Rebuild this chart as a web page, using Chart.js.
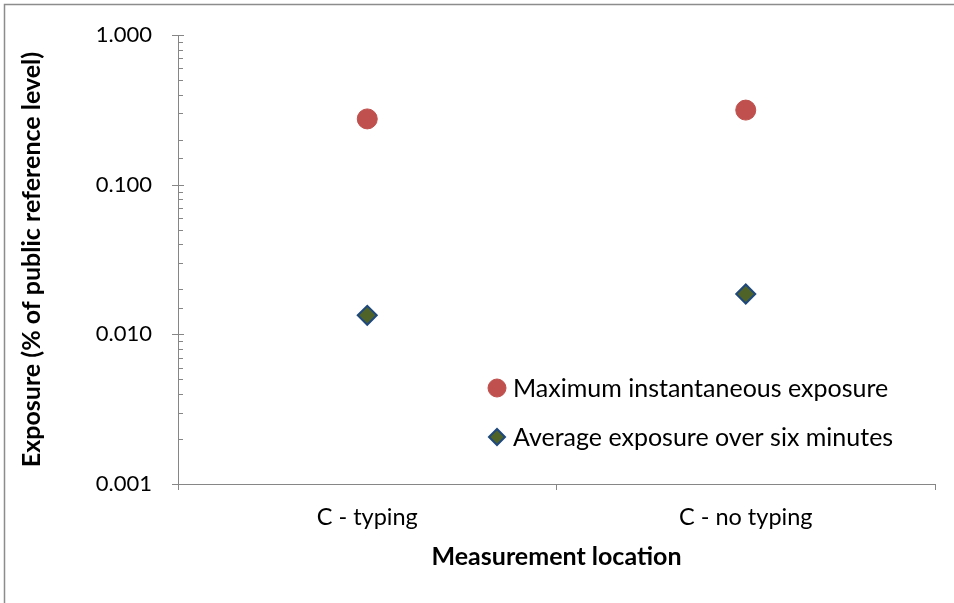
<!DOCTYPE html>
<html><head><meta charset="utf-8">
<script src="https://cdn.jsdelivr.net/npm/chart.js@4"></script>
<style>html,body{margin:0;padding:0;background:#fff}#wrap{width:954px;height:603px;position:relative}</style>
</head><body><div id="wrap"><canvas id="c" width="954" height="603"></canvas></div>
<script>
const categories = ['C - typing', 'C - no typing'];
const seriesNames = ['Maximum instantaneous exposure', 'Average exposure over six minutes'];
const maxExposure = [0.275, 0.315];
const avgExposure = [0.0134, 0.0186];
const yMajorValues = [0.001, 0.01, 0.1, 1];
const yTickLabels = ['0.001', '0.010', '0.100', '1.000'];
const xTitle = 'Measurement location';
const yTitle = 'Exposure (% of public reference level)';

const FONT = 'Lato';
const AXIS = '#868686';
Chart.defaults.font.family = FONT;
Chart.defaults.color = '#000';

function isMajor(v) {
  return yMajorValues.some(m => Math.abs(v - m) / m < 1e-6);
}

const borderPlugin = {
  id: 'outerBorder',
  beforeDraw(chart) {
    const ctx = chart.ctx;
    ctx.save();
    ctx.fillStyle = '#fff';
    ctx.fillRect(0, 0, chart.width, chart.height);
    ctx.strokeStyle = '#8c8c8c';
    ctx.lineWidth = 1.5;
    ctx.strokeRect(4.5, 4.5, chart.width + 20, chart.height + 20);
    ctx.restore();
  }
};

const yTickPlugin = {
  id: 'yTicks',
  afterDraw(chart) {
    const s = chart.scales.y;
    const ctx = chart.ctx;
    const x = s.right;
    ctx.save();
    ctx.strokeStyle = AXIS;
    ctx.lineWidth = 1;
    s.ticks.forEach(t => {
      const py = Math.round(s.getPixelForValue(t.value)) + 0.5;
      ctx.beginPath();
      if (isMajor(t.value)) {
        ctx.moveTo(x - 6, py); ctx.lineTo(x + 6, py);
      } else {
        ctx.moveTo(x, py); ctx.lineTo(x + 5, py);
      }
      ctx.stroke();
    });
    ctx.restore();
  }
};

const legendPlugin = {
  id: 'insideLegend',
  afterDraw(chart) {
    const ctx = chart.ctx;
    const area = chart.chartArea;
    const x0 = area.left + 319;
    const ys = [area.top + 353, area.top + 402];
    ctx.save();
    ctx.font = '25px ' + FONT;
    ctx.textBaseline = 'middle';
    ctx.textAlign = 'left';
    ctx.fillStyle = '#000';
    chart.data.datasets.forEach((ds, i) => {
      ctx.fillStyle = ds.backgroundColor;
      ctx.strokeStyle = ds.borderColor;
      ctx.lineWidth = ds.borderWidth;
      Chart.helpers.drawPoint(ctx, {pointStyle: ds.pointStyle, radius: ds.legendRadius, borderWidth: ds.borderWidth, rotation: 0}, x0, ys[i]);
      ctx.fillStyle = '#000';
      ctx.fillText(ds.label, x0 + 16, ys[i] + 1);
    });
    ctx.restore();
  }
};

new Chart(document.getElementById('c'), {
  type: 'line',
  data: {
    labels: categories,
    datasets: [
      {label: seriesNames[0], data: maxExposure, showLine: false, pointStyle: 'circle', pointRadius: 10, pointHoverRadius: 10,
       backgroundColor: '#C0504D', borderColor: '#C0504D', borderWidth: 1, legendRadius: 9},
      {label: seriesNames[1], data: avgExposure, showLine: false, pointStyle: 'rectRot', pointRadius: 9.5, pointHoverRadius: 9.5,
       backgroundColor: '#4F6228', borderColor: '#1F497D', borderWidth: 2, legendRadius: 8}
    ]
  },
  options: {
    responsive: false,
    animation: false,
    events: [],
    layout: {padding: {left: 0, top: 35, right: 19, bottom: 0}},
    plugins: {legend: {display: false}, tooltip: {enabled: false}},
    scales: {
      x: {
        type: 'category',
        offset: true,
        grid: {display: true, drawOnChartArea: false, offset: true, drawTicks: true, tickLength: 6, color: AXIS},
        border: {display: true, color: AXIS, width: 1},
        ticks: {font: {size: 23.5}, color: '#000', padding: 13},
        title: {display: true, text: xTitle, font: {size: 25, weight: 'bold'}, color: '#000', padding: {top: 0, bottom: 31}},
        afterFit(s) { s.height = 119; s.paddingLeft = 0; s.paddingRight = 0; }
      },
      y: {
        type: 'logarithmic',
        min: 0.001,
        max: 1,
        grid: {display: false, drawTicks: false},
        border: {display: true, color: AXIS, width: 1},
        ticks: {
          autoSkip: false,
          font: {size: 22},
          color: '#000',
          padding: 26,
          callback(v) {
            const idx = yMajorValues.findIndex(m => Math.abs(v - m) / m < 1e-6);
            return idx >= 0 ? yTickLabels[idx] : '';
          }
        },
        title: {display: true, text: yTitle, font: {size: 25, weight: 'bold'}, color: '#000', padding: {top: 17, bottom: 0}},
        afterFit(s) { s.width = 178; s.paddingTop = 0; s.paddingBottom = 0; }
      }
    }
  },
  plugins: [borderPlugin, yTickPlugin, legendPlugin]
});
</script></body></html>
